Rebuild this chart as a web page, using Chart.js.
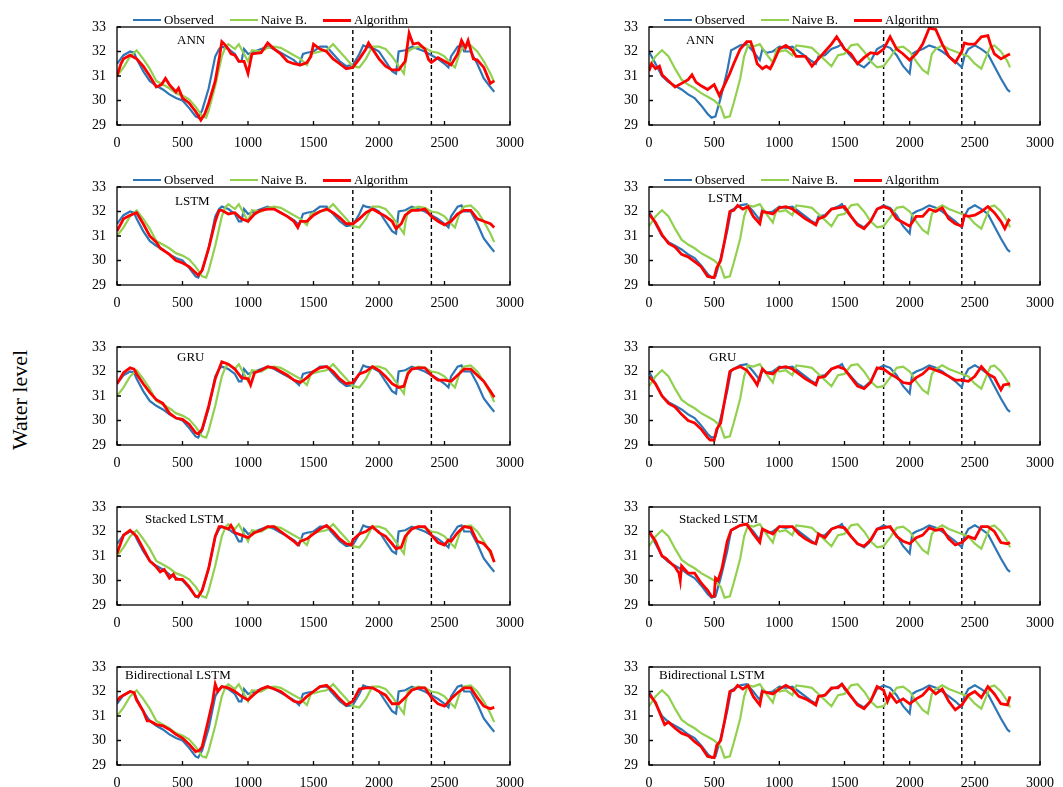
<!DOCTYPE html>
<html>
<head>
<meta charset="utf-8">
<script src="https://cdn.jsdelivr.net/npm/chart.js@4.4.0/dist/chart.umd.min.js"></script>
<style>
  body { margin:0; background:#fff; width:1063px; height:787px; position:relative; overflow:hidden;
         font-family:"Liberation Serif","Times New Roman",serif; color:#000; }
  canvas { position:absolute; }
  .legend { position:absolute; display:flex; align-items:center; height:16px; font-size:13px; white-space:nowrap; }
  .legend .item { display:flex; align-items:center; margin-right:16px; }
  .legend .ln { display:inline-block; width:28px; margin-right:3px; }
  #ylab { position:absolute; left:20px; top:400px; transform:translate(-50%,-50%) rotate(-90deg);
          font-size:22px; white-space:nowrap; }
</style>
</head>
<body>
<div id="ylab">Water level</div>
<script>
// ---- data ----
const modelNames = ['ANN', 'LSTM', 'GRU', 'Stacked LSTM', 'Bidirectional LSTM'];
const seriesNames = ['Observed', 'Naive B.', 'Algorithm'];
const splitPoints = [1800, 2400];
const xTicks = [0, 500, 1000, 1500, 2000, 2500, 3000];
const yTicks = [29, 30, 31, 32, 33];

// left column
const obsLeft = [[0,31.5],[50,31.85],[100,32.0],[130,31.95],[150,31.7],[200,31.2],[250,30.8],[300,30.6],[350,30.45],[400,30.25],[450,30.1],[500,30.0],[550,29.7],[600,29.35],[620,29.3],[650,29.6],[700,30.5],[750,31.8],[780,32.1],[800,32.2],[850,32.1],[900,31.9],[930,31.6],[950,31.6],[970,32.1],[1000,31.9],[1050,32.0],[1100,32.1],[1150,32.2],[1200,32.1],[1250,31.95],[1300,31.8],[1350,31.65],[1390,31.45],[1420,31.9],[1450,31.95],[1500,32.0],[1550,32.2],[1600,32.2],[1650,31.9],[1700,31.6],[1750,31.4],[1800,31.45],[1850,31.9],[1880,32.25],[1900,32.2],[1950,32.15],[2000,32.0],[2050,31.6],[2100,31.2],[2130,31.1],[2150,32.0],[2200,32.05],[2250,32.2],[2300,32.1],[2350,32.0],[2400,31.85],[2450,31.7],[2500,31.5],[2530,31.35],[2550,31.8],[2600,32.2],[2630,32.25],[2650,32.0],[2700,32.0],[2750,31.5],[2800,30.9],[2850,30.55],[2880,30.35]];
const naiveLeft = [[0,31.0],[50,31.35],[100,31.8],[150,32.05],[200,31.7],[250,31.3],[300,30.8],[350,30.65],[400,30.5],[450,30.3],[500,30.2],[550,30.05],[600,29.75],[650,29.35],[680,29.3],[700,29.6],[750,30.6],[800,31.8],[830,32.2],[850,32.3],[900,32.1],[930,32.3],[970,31.9],[1000,31.6],[1030,32.05],[1100,32.0],[1150,32.15],[1200,32.2],[1250,32.15],[1300,32.0],[1350,31.85],[1400,31.7],[1450,31.45],[1480,31.9],[1550,32.0],[1600,32.05],[1650,32.3],[1700,32.0],[1750,31.7],[1800,31.4],[1850,31.35],[1900,31.7],[1950,32.2],[2000,32.2],[2050,32.1],[2100,31.8],[2150,31.4],[2190,31.1],[2200,31.5],[2220,32.0],[2250,32.1],[2300,32.2],[2350,32.15],[2400,32.0],[2450,31.95],[2500,31.8],[2550,31.5],[2580,31.35],[2620,32.0],[2650,32.2],[2700,32.25],[2750,32.0],[2800,31.6],[2850,31.1],[2880,30.75]];
const annLeft = [[0,31.0],[30,31.5],[50,31.7],[100,31.85],[150,31.7],[200,31.4],[250,31.0],[300,30.55],[340,30.65],[370,30.9],[400,30.65],[450,30.35],[470,30.5],[500,30.1],[550,29.9],[600,29.55],[640,29.2],[670,29.45],[700,29.9],[750,30.8],[780,31.7],[800,32.4],[820,32.3],[850,32.1],[870,31.9],[900,31.85],[930,31.6],[970,31.6],[1000,31.1],[1030,31.9],[1100,31.95],[1150,32.35],[1200,32.1],[1250,31.9],[1300,31.6],[1350,31.5],[1400,31.45],[1450,31.55],[1480,31.8],[1500,32.3],[1550,32.1],[1600,32.0],[1650,31.7],[1700,31.5],[1750,31.3],[1800,31.35],[1850,31.7],[1900,32.1],[1920,32.35],[1950,32.1],[2000,31.7],[2050,31.4],[2100,31.25],[2150,31.25],[2200,31.6],[2230,32.75],[2260,32.3],[2300,32.35],[2350,32.1],[2380,31.65],[2400,31.55],[2450,31.75],[2500,31.6],[2550,31.45],[2600,31.9],[2630,32.45],[2660,32.15],[2680,32.45],[2720,31.7],[2750,31.65],[2800,31.35],[2850,30.7],[2880,30.8]];
const lstmLeft = [[0,31.2],[50,31.7],[100,31.85],[150,31.95],[200,31.5],[250,31.0],[300,30.75],[330,30.5],[400,30.25],[450,30.0],[500,29.9],[550,29.75],[600,29.5],[620,29.4],[650,29.6],[700,30.5],[750,31.6],[780,32.05],[800,32.05],[850,31.9],[900,31.95],[950,31.7],[1000,31.6],[1050,31.9],[1100,32.05],[1150,32.1],[1200,32.1],[1250,31.95],[1300,31.8],[1350,31.6],[1380,31.35],[1400,31.6],[1450,31.6],[1500,31.85],[1550,32.0],[1600,32.1],[1650,31.95],[1700,31.75],[1750,31.5],[1800,31.5],[1850,31.7],[1900,31.95],[1950,32.1],[2000,31.95],[2050,31.8],[2100,31.6],[2130,31.3],[2170,31.5],[2200,31.85],[2250,32.05],[2300,32.05],[2350,32.1],[2400,31.8],[2450,31.6],[2500,31.45],[2550,31.6],[2600,31.9],[2650,32.05],[2700,32.05],[2750,31.7],[2800,31.6],[2850,31.5],[2880,31.35]];
const gruLeft = [[0,31.5],[50,31.95],[100,32.15],[130,32.1],[150,31.9],[200,31.5],[250,31.15],[300,30.85],[350,30.7],[400,30.3],[450,30.1],[500,30.05],[550,29.85],[600,29.5],[620,29.45],[650,29.65],[700,30.6],[750,31.7],[800,32.4],[850,32.3],[900,32.1],[950,31.75],[1000,31.7],[1020,31.45],[1050,31.95],[1100,32.05],[1150,32.2],[1200,32.15],[1250,32.0],[1300,31.85],[1350,31.65],[1400,31.55],[1450,31.75],[1500,32.0],[1550,32.15],[1600,32.2],[1650,32.0],[1700,31.7],[1750,31.5],[1800,31.55],[1850,31.9],[1900,32.0],[1950,32.2],[2000,32.05],[2050,31.8],[2100,31.5],[2150,31.35],[2190,31.4],[2220,31.9],[2250,32.1],[2300,32.15],[2350,32.15],[2400,31.85],[2450,31.65],[2500,31.65],[2550,31.6],[2600,31.85],[2650,32.1],[2700,32.1],[2750,31.85],[2800,31.6],[2850,31.2],[2880,30.95]];
const stackedLeft = [[0,31.1],[50,31.85],[100,32.05],[130,31.9],[150,31.8],[200,31.3],[250,30.8],[300,30.55],[330,30.35],[360,30.45],[400,30.1],[430,30.25],[450,30.05],[500,30.05],[550,29.75],[600,29.35],[620,29.35],[650,29.6],[700,30.5],[750,31.8],[780,32.2],[800,32.2],[850,32.1],[870,32.25],[900,31.95],[950,31.85],[1000,31.75],[1050,31.95],[1100,32.05],[1150,32.2],[1200,32.2],[1250,32.0],[1300,31.8],[1350,31.6],[1380,31.45],[1400,31.6],[1450,31.7],[1500,31.9],[1550,32.1],[1600,32.25],[1650,32.0],[1700,31.7],[1750,31.5],[1790,31.45],[1800,31.65],[1850,31.9],[1900,32.0],[1950,32.2],[2000,31.95],[2050,31.8],[2100,31.5],[2130,31.3],[2170,31.35],[2200,31.8],[2250,32.1],[2300,32.2],[2350,32.2],[2400,31.85],[2450,31.55],[2500,31.45],[2530,31.65],[2550,31.6],[2600,31.95],[2650,32.2],[2700,32.15],[2750,31.6],[2800,31.5],[2850,31.2],[2880,30.75]];
const bidiLeft = [[0,31.6],[20,31.75],[50,31.85],[100,32.0],[130,31.95],[150,31.65],[200,31.2],[230,30.8],[250,30.8],[300,30.65],[350,30.6],[400,30.45],[450,30.25],[500,30.1],[550,29.85],[600,29.55],[630,29.6],[650,29.75],[700,30.9],[730,31.6],[750,32.3],[770,32.0],[800,32.2],[850,32.15],[900,32.0],[950,31.8],[1000,31.65],[1050,31.9],[1100,32.1],[1150,32.2],[1200,32.1],[1250,32.0],[1300,31.8],[1350,31.6],[1400,31.55],[1450,31.8],[1500,32.0],[1550,32.2],[1600,32.25],[1650,32.0],[1700,31.7],[1750,31.45],[1800,31.6],[1850,32.1],[1900,32.15],[1950,32.15],[2000,32.0],[2050,31.85],[2100,31.5],[2150,31.5],[2200,31.75],[2250,32.05],[2300,32.15],[2350,32.15],[2400,31.75],[2450,31.5],[2500,31.4],[2550,31.7],[2600,31.95],[2650,32.15],[2700,32.15],[2750,31.75],[2800,31.4],[2850,31.3],[2880,31.35]];

// right column
const obsRight = [[0,32.0],[50,31.5],[100,31.0],[150,30.75],[200,30.6],[250,30.45],[300,30.25],[350,30.1],[400,29.8],[450,29.45],[480,29.3],[510,29.35],[550,30.1],[600,31.2],[630,32.05],[650,32.1],[700,32.25],[750,32.3],[800,32.0],[850,31.65],[870,32.1],[900,31.95],[950,32.0],[1000,32.2],[1050,32.15],[1100,32.2],[1150,32.0],[1200,31.8],[1250,31.6],[1280,31.5],[1300,31.8],[1350,31.85],[1400,32.1],[1450,32.2],[1480,32.3],[1500,32.1],[1550,31.8],[1600,31.5],[1650,31.35],[1700,31.6],[1750,32.1],[1800,32.25],[1850,32.15],[1900,31.85],[1950,31.4],[2000,31.1],[2020,31.9],[2050,32.0],[2100,32.1],[2150,32.25],[2200,32.15],[2250,32.0],[2300,31.8],[2350,31.6],[2400,31.35],[2420,31.8],[2450,32.1],[2500,32.25],[2550,32.1],[2600,31.9],[2650,31.4],[2700,30.9],[2750,30.45],[2770,30.35]];
const naiveRight = [[0,31.4],[50,31.8],[100,32.05],[150,31.8],[200,31.3],[250,30.85],[300,30.65],[350,30.5],[400,30.3],[450,30.15],[500,30.0],[550,29.75],[580,29.3],[620,29.35],[650,29.9],[700,30.9],[730,31.8],[760,32.25],[800,32.2],[850,32.3],[900,31.9],[950,31.55],[980,32.1],[1000,32.0],[1050,32.05],[1100,31.85],[1130,32.25],[1200,32.2],[1250,32.15],[1300,31.9],[1350,31.65],[1400,31.4],[1450,31.85],[1500,31.9],[1550,32.25],[1600,32.3],[1650,32.0],[1700,31.6],[1750,31.35],[1800,31.4],[1850,31.75],[1900,32.15],[1950,32.2],[2000,32.0],[2050,31.6],[2100,31.25],[2140,31.1],[2170,31.9],[2200,32.1],[2250,32.25],[2300,32.1],[2350,32.0],[2400,31.9],[2450,31.8],[2500,31.5],[2550,31.3],[2580,31.7],[2620,32.2],[2650,32.25],[2700,32.0],[2750,31.6],[2770,31.35]];
const annRight = [[0,31.2],[20,31.5],[50,31.3],[80,31.4],[100,31.05],[150,30.8],[200,30.55],[250,30.7],[300,30.85],[330,31.05],[360,30.75],[400,30.6],[450,30.45],[500,30.65],[540,30.2],[580,30.65],[620,31.1],[650,31.5],[700,32.1],[750,32.4],[780,32.4],[800,32.1],[830,31.5],[870,31.3],[900,31.4],[930,31.3],[950,31.5],[1000,32.1],[1050,32.25],[1100,32.05],[1130,31.8],[1200,31.8],[1250,31.4],[1300,31.7],[1350,32.0],[1400,32.3],[1440,32.6],[1500,32.1],[1550,31.9],[1600,31.5],[1650,31.75],[1700,31.95],[1750,31.9],[1800,32.1],[1850,32.6],[1900,32.1],[1950,31.9],[2000,31.65],[2050,31.9],[2100,32.3],[2150,32.95],[2200,32.9],[2250,32.3],[2300,31.8],[2350,31.55],[2400,32.0],[2420,32.35],[2450,32.3],[2500,32.3],[2550,32.6],[2600,32.65],[2620,32.3],[2650,31.9],[2700,31.7],[2750,31.85],[2770,31.9]];
const lstmRight = [[0,31.9],[50,31.55],[100,31.05],[150,30.7],[200,30.55],[250,30.25],[300,30.15],[350,29.95],[400,29.75],[450,29.35],[500,29.3],[520,29.7],[550,30.0],[580,30.8],[620,32.0],[650,32.05],[680,32.25],[720,32.1],[760,32.2],[800,31.8],[850,31.5],[870,32.0],[950,31.9],[1000,32.15],[1050,32.2],[1100,32.1],[1150,31.9],[1200,31.7],[1250,31.55],[1280,31.45],[1300,31.7],[1350,31.8],[1400,32.1],[1450,32.15],[1500,32.2],[1550,31.8],[1600,31.45],[1650,31.3],[1700,31.6],[1750,32.1],[1800,32.2],[1850,32.1],[1900,31.7],[1950,31.55],[2000,31.4],[2050,31.8],[2100,31.8],[2150,32.1],[2200,32.0],[2250,32.15],[2300,31.7],[2350,31.5],[2400,31.4],[2420,31.85],[2450,31.8],[2500,31.85],[2550,32.0],[2600,32.2],[2650,31.95],[2700,31.6],[2730,31.3],[2760,31.65],[2770,31.6]];
const gruRight = [[0,31.8],[50,31.5],[100,31.0],[150,30.7],[200,30.55],[250,30.25],[300,30.0],[350,29.9],[400,29.65],[450,29.3],[470,29.2],[500,29.2],[520,29.65],[550,29.9],[580,30.8],[620,32.0],[650,32.1],[700,32.2],[750,32.05],[800,31.7],[830,31.45],[870,32.1],[900,31.95],[950,31.9],[1000,32.15],[1050,32.2],[1100,32.1],[1150,31.9],[1200,31.7],[1250,31.55],[1280,31.45],[1300,31.75],[1350,31.8],[1400,32.1],[1450,32.2],[1500,32.1],[1550,31.75],[1600,31.4],[1650,31.3],[1700,31.55],[1750,32.15],[1800,32.1],[1850,31.9],[1900,31.75],[1950,31.55],[2000,31.5],[2050,31.75],[2100,31.9],[2150,32.15],[2200,32.05],[2250,31.95],[2300,31.8],[2350,31.65],[2400,31.65],[2450,31.6],[2500,31.8],[2550,32.2],[2600,31.9],[2650,31.75],[2700,31.25],[2720,31.45],[2770,31.5]];
const stackedRight = [[0,32.0],[50,31.6],[100,31.0],[130,30.9],[150,30.8],[200,30.55],[230,30.3],[240,30.0],[250,30.6],[300,30.3],[350,30.3],[400,29.9],[450,29.6],[480,29.35],[500,29.35],[510,30.1],[530,30.0],[560,30.5],[600,31.6],[630,32.05],[700,32.25],[750,32.3],[800,31.9],[850,31.55],[870,32.1],[950,31.9],[1000,32.2],[1050,32.2],[1100,32.2],[1150,31.9],[1200,31.7],[1250,31.55],[1280,31.5],[1300,31.9],[1350,31.75],[1400,32.1],[1450,32.2],[1500,32.15],[1550,31.8],[1600,31.5],[1650,31.4],[1700,31.65],[1750,32.1],[1800,32.15],[1850,32.2],[1900,31.8],[1950,31.6],[2000,31.5],[2050,31.75],[2100,31.85],[2150,32.15],[2200,32.05],[2250,32.1],[2300,31.7],[2350,31.45],[2400,31.55],[2450,31.8],[2500,31.7],[2550,32.2],[2600,32.2],[2650,32.0],[2700,31.55],[2750,31.5],[2770,31.55]];
const bidiRight = [[0,31.9],[50,31.55],[100,30.9],[120,30.65],[150,30.75],[200,30.5],[250,30.3],[300,30.2],[350,29.95],[400,29.75],[450,29.35],[500,29.3],[520,29.8],[550,30.0],[580,30.8],[620,32.0],[650,32.05],[680,32.25],[720,32.1],[760,32.25],[800,31.8],[850,31.45],[870,32.0],[950,31.9],[1000,32.1],[1050,32.25],[1100,32.1],[1150,31.8],[1200,31.7],[1250,31.55],[1280,31.45],[1300,31.8],[1350,31.85],[1400,32.15],[1450,32.15],[1480,32.3],[1550,31.8],[1600,31.45],[1650,31.3],[1700,31.6],[1750,32.2],[1800,32.05],[1830,31.6],[1850,31.9],[1900,31.55],[1950,31.7],[2000,31.5],[2050,31.7],[2100,31.85],[2150,32.15],[2200,31.9],[2250,32.1],[2300,31.6],[2350,31.25],[2400,31.45],[2450,31.85],[2500,32.0],[2550,31.75],[2600,32.2],[2650,31.9],[2700,31.5],[2750,31.45],[2770,31.8]];

const algoLeft = [annLeft, lstmLeft, gruLeft, stackedLeft, bidiLeft];
const algoRight = [annRight, lstmRight, gruRight, stackedRight, bidiRight];

// ---- layout ----
const colors = { obs: '#2E75B6', naive: '#92D050', algo: '#FF0000' };
const FONT = '"Liberation Serif", "Times New Roman", serif';
const cols = [ { L: 117, R: 510 }, { L: 649, R: 1040 } ];
const rowTop = [27, 187, 347, 507, 667];
const PLOT_H = 98;
// where the model name sits inside each plot (offset from plot's top-left)
const labelOffsets = [
  [[60, 14], [37, 14]],
  [[58, 15], [59, 12]],
  [[60, 11], [60, 11]],
  [[28, 13], [30, 13]],
  [[8, 9], [10, 9]]
];

function addLegend(left, top) {
  let div = document.createElement('div');
  div.className = 'legend';
  div.style.left = left + 'px';
  div.style.top = (top - 8) + 'px';
  let widths = [2, 2, 3];
  let cs = [colors.obs, colors.naive, colors.algo];
  for (let i = 0; i < 3; i++) {
    let item = document.createElement('div');
    item.className = 'item';
    item.innerHTML = `<span class="ln" style="height:${widths[i]}px;background:${cs[i]}"></span>${seriesNames[i]}`;
    div.appendChild(item);
  }
  document.body.appendChild(div);
}

function makePanel(c, r) {
  const col = cols[c];
  const canvas = document.createElement('canvas');
  const w = (col.R - col.L) + 45 + 30;
  const h = 8 + PLOT_H + 30;
  canvas.width = w; canvas.height = h;
  canvas.style.left = (col.L - 45) + 'px';
  canvas.style.top = (rowTop[r] - 8) + 'px';
  canvas.style.width = w + 'px'; canvas.style.height = h + 'px';
  document.body.appendChild(canvas);

  const obs = c == 0 ? obsLeft : obsRight;
  const naive = c == 0 ? naiveLeft : naiveRight;
  const algo = c == 0 ? algoLeft[r] : algoRight[r];
  const name = modelNames[r];
  const off = labelOffsets[r][c];

  const datasets = [
    { label: seriesNames[0], data: obs, borderColor: colors.obs, borderWidth: 2.2, order: 3 },
    { label: seriesNames[1], data: naive, borderColor: colors.naive, borderWidth: 2.2, order: 2 },
    { label: seriesNames[2], data: algo, borderColor: colors.algo, borderWidth: 2.8, order: 1 }
  ];
  splitPoints.forEach(sx => {
    datasets.push({ label: 'split', data: [[sx, yTicks[0]], [sx, yTicks[yTicks.length - 1]]],
      borderColor: '#000', borderWidth: 1.4, borderDash: [4, 3], order: 4 });
  });

  // box around plot, inward tick marks, model name
  const frame = {
    id: 'frame',
    afterDatasetsDraw(chart) {
      const { ctx, chartArea: a, scales: { x, y } } = chart;
      ctx.save();
      ctx.strokeStyle = '#000';
      ctx.lineWidth = 1.3;
      ctx.strokeRect(a.left, a.top, a.right - a.left, a.bottom - a.top);
      ctx.beginPath();
      xTicks.forEach(v => { let px = x.getPixelForValue(v); ctx.moveTo(px, a.bottom); ctx.lineTo(px, a.bottom - 4); });
      yTicks.forEach(v => { let py = y.getPixelForValue(v); ctx.moveTo(a.left, py); ctx.lineTo(a.left + 4, py); });
      ctx.stroke();
      ctx.fillStyle = '#000';
      ctx.font = '13px ' + FONT;
      ctx.textBaseline = 'middle';
      ctx.fillText(name, a.left + off[0], a.top + off[1]);
      ctx.restore();
    }
  };

  // keep the plot box fixed: no extra room for overflowing edge labels
  const noPad = s => { s.paddingTop = 0; s.paddingBottom = 0; s.paddingLeft = 0; s.paddingRight = 0; };

  new Chart(canvas.getContext('2d'), {
    type: 'line',
    data: { datasets: datasets },
    options: {
      responsive: false,
      animation: false,
      layout: { padding: { top: 8, right: 30, left: 0, bottom: 0 } },
      plugins: { legend: { display: false }, tooltip: { enabled: false } },
      elements: { point: { radius: 0 }, line: { tension: 0 } },
      scales: {
        x: {
          type: 'linear', min: xTicks[0], max: xTicks[xTicks.length - 1],
          grid: { display: false, drawTicks: false }, border: { display: false },
          afterBuildTicks: s => { s.ticks = xTicks.map(v => ({ value: v })); },
          afterFit: s => { s.height = 30; noPad(s); },
          ticks: { padding: 10, color: '#000', maxRotation: 0, autoSkip: false,
                   font: { family: FONT, size: 14 }, callback: v => String(v) }
        },
        y: {
          min: yTicks[0], max: yTicks[yTicks.length - 1],
          grid: { display: false, drawTicks: false }, border: { display: false },
          afterBuildTicks: s => { s.ticks = yTicks.map(v => ({ value: v })); },
          afterFit: s => { s.width = 45; noPad(s); },
          ticks: { padding: 11, color: '#000', font: { family: FONT, size: 14 }, callback: v => String(v) }
        }
      }
    },
    plugins: [frame]
  });
}

for (let r = 0; r < 5; r++) {
  for (let c = 0; c < 2; c++) {
    makePanel(c, r);
  }
}
addLegend(cols[0].L + 16, rowTop[0] - 7);
addLegend(cols[1].L + 15, rowTop[0] - 7);
addLegend(cols[0].L + 16, rowTop[1] - 7);
addLegend(cols[1].L + 15, rowTop[1] - 7);
</script>
</body>
</html>
